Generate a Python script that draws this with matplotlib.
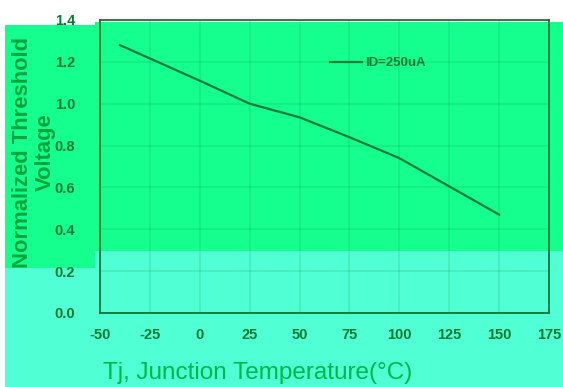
import matplotlib
matplotlib.use("Agg")
import matplotlib.pyplot as plt
from matplotlib.patches import Rectangle

# data
temp = [-40, 0, 25, 50, 75, 100, 125, 150]
vth = [1.28, 1.11, 1.00, 0.935, 0.84, 0.74, 0.605, 0.47]
xticks = [-50, -25, 0, 25, 50, 75, 100, 125, 150, 175]
yticks = [0.0, 0.2, 0.4, 0.6, 0.8, 1.0, 1.2, 1.4]

green = "#14ff8e"
cyan = "#50ffd4"
dark = "#0b7a30"

plt.rcParams['font.family'] = ['Liberation Sans', 'DejaVu Sans']
plt.rcParams['axes.unicode_minus'] = False

W, H = 563, 387
fig = plt.figure(figsize=(W / 100, H / 100), dpi=100, facecolor='white')

def px_rect(x0, y0, x1, y1, color):
    # pixel box (top-left origin) -> figure fraction rectangle
    fig.patches.append(Rectangle((x0 / W, 1 - y1 / H), (x1 - x0) / W, (y1 - y0) / H,
                                 transform=fig.transFigure, facecolor=color,
                                 edgecolor='none', zorder=-5))

# odd background bands of the scanned picture
px_rect(95, 22, W, 251, green)
px_rect(5, 25, 95, 268, green)
px_rect(95, 251, W, H, cyan)
px_rect(5, 268, 95, H, cyan)

ax = fig.add_axes([100 / W, 1 - 313 / H, 449 / W, 293 / H])
ax.set_zorder(2)
ax.set_facecolor('none')
ax.plot(temp, vth, color="#117a38", lw=1.6, label="ID=250uA")

ax.set_xlim(-50, 175)
ax.set_ylim(0, 1.4)
ax.set_xticks(xticks)
ax.set_yticks(yticks)
ax.set_yticklabels([f"{v:.1f}" for v in yticks])
ax.grid(True, color="#0a9a48", alpha=0.18, lw=1.2)
ax.tick_params(length=0, labelsize=10.5, labelcolor=dark)
ax.tick_params(axis='y', pad=18)
ax.tick_params(axis='x', pad=11)
for t in ax.get_xticklabels() + ax.get_yticklabels():
    t.set_fontweight('bold')
for s in ax.spines.values():
    s.set_color("#0a6a2a")
    s.set_linewidth(1.2)

leg = ax.legend(loc='center left', bbox_to_anchor=(0.512, 0.853), frameon=False,
                fontsize=9.5, handlelength=2.4, handletextpad=0.25,
                borderpad=0, borderaxespad=0)
for t in leg.get_texts():
    t.set_color(dark)
    t.set_fontweight('bold')

fig.text(34 / W, 1 - 152 / H, "Normalized Threshold\nVoltage", rotation=90,
         ha='center', va='center', fontsize=15.8, fontweight='bold',
         color="#00a43c", linespacing=1.1, zorder=3)
fig.text(258 / W, 1 - 373 / H, "Tj, Junction Temperature(°C)", ha='center',
         va='center', fontsize=17.5, color="#00b848", zorder=3)

fig.savefig("out.png", dpi=100, facecolor=fig.get_facecolor())
